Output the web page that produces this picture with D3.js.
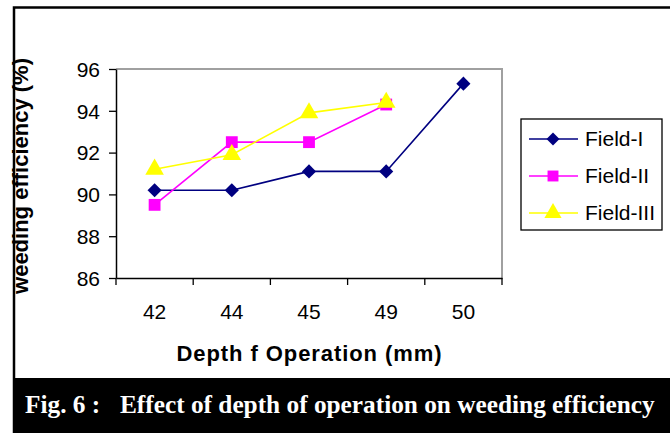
<!doctype html>
<html>
<head>
    <meta charset="utf-8"/>
    <style>
        body { margin: 0; background: #fff; }
        svg { display: block; font-family: "Liberation Sans", Arial, sans-serif; }
    </style>
    <script src="https://d3js.org/d3.v7.min.js"></script>
</head>
<body>
<svg width="670" height="433"></svg>

<script>
    // depth of operation (mm), one category each
    var depths = ["42", "44", "45", "49", "50"];
    var yTicks = [86, 88, 90, 92, 94, 96];

    var fieldI   = [90.2, 90.2, 91.1, 91.1, 95.3];
    var fieldII  = [89.5, 92.5, 92.5, 94.3];
    var fieldIII = [91.2, 91.9, 93.9, 94.4];

    var seriesNames = ["Field-I", "Field-II", "Field-III"];
    var seriesColors = ["#000080", "#ff00ff", "#ffff00"];
    // Field-I diamond = square turned 45 degrees
    var seriesShapes = [d3.symbolSquare, d3.symbolSquare, d3.symbolTriangle];
    var seriesRotate = [45, 0, 0];
    var seriesSizes = [100, 140, 150];

    var svg = d3.select("svg");

    var plot = {left: 116, right: 502, top: 69, bottom: 278};

    var x = d3.scaleBand()
        .domain(depths)
        .range([plot.left, plot.right]);

    var y = d3.scaleLinear()
        .domain([86, 96])
        .range([plot.bottom, plot.top]);

    // outer frame
    svg.append("rect")
        .attr("x", 14).attr("y", 7.5)
        .attr("width", 700).attr("height", 440)
        .attr("fill", "none")
        .attr("stroke", "#000")
        .attr("stroke-width", 2.5);

    // top/right plot border in grey
    svg.append("path")
        .attr("d", "M" + plot.left + "," + plot.top + "H" + plot.right + "V" + plot.bottom)
        .attr("fill", "none")
        .attr("stroke", "#a0a0a0")
        .attr("stroke-width", 2);

    var yAxis = svg.append("g")
        .attr("transform", "translate(" + plot.left + ",0)")
        .call(d3.axisLeft(y).tickValues(yTicks).tickSize(7).tickSizeOuter(0).tickPadding(9));

    var xAxis = svg.append("g")
        .attr("transform", "translate(0," + plot.bottom + ")")
        .call(d3.axisBottom(x).tickSize(0).tickPadding(26));

    // x tick marks sit between categories
    svg.append("g")
        .selectAll("line")
        .data(depths.concat(["end"]))
        .join("line")
        .attr("x1", function(d, i) { return x.range()[0] + i * x.step(); })
        .attr("x2", function(d, i) { return x.range()[0] + i * x.step(); })
        .attr("y1", plot.bottom)
        .attr("y2", plot.bottom + 7)
        .attr("stroke", "#000")
        .attr("stroke-width", 1.3);

    [yAxis, xAxis].forEach(function(a) {
        a.attr("font-family", null).attr("font-size", null);
        a.select(".domain").attr("stroke", "#000").attr("stroke-width", 1.5);
        a.selectAll(".tick line").attr("stroke", "#000").attr("stroke-width", 1.3);
        a.selectAll(".tick text")
            .attr("font-size", 21)
            .attr("fill", "#000");
    });
    yAxis.selectAll(".tick text").attr("dy", "0.35em");

    // axis titles
    svg.append("text")
        .attr("transform", "translate(28,176) rotate(-90)")
        .attr("text-anchor", "middle")
        .attr("font-weight", "bold")
        .attr("font-size", 22)
        .text("weeding efficiency (%)");

    svg.append("text")
        .attr("x", (plot.left + plot.right) / 2)
        .attr("y", 361)
        .attr("text-anchor", "middle")
        .attr("font-weight", "bold")
        .attr("font-size", 22)
        .attr("textLength", 265)
        .text("Depth f Operation (mm)");

    // series
    var allSeries = [fieldI, fieldII, fieldIII];
    var line = d3.line()
        .x(function(d, i) { return x(depths[i]) + x.bandwidth() / 2; })
        .y(function(d) { return y(d); });

    allSeries.forEach(function(values, s) {
        var g = svg.append("g");
        g.append("path")
            .datum(values)
            .attr("d", line)
            .attr("fill", "none")
            .attr("stroke", seriesColors[s])
            .attr("stroke-width", 1.6);
        g.selectAll("path.pt")
            .data(values)
            .join("path")
            .attr("class", "pt")
            .attr("transform", function(d, i) {
                return "translate(" + (x(depths[i]) + x.bandwidth() / 2) + "," + y(d) + ") rotate(" + seriesRotate[s] + ")";
            })
            .attr("d", d3.symbol().type(seriesShapes[s]).size(seriesSizes[s]))
            .attr("fill", seriesColors[s]);
    });

    // legend
    var legend = svg.append("g");
    legend.append("rect")
        .attr("x", 521).attr("y", 119)
        .attr("width", 141).attr("height", 111)
        .attr("fill", "#fff")
        .attr("stroke", "#000")
        .attr("stroke-width", 1.3);

    var items = legend.selectAll("g.item")
        .data(seriesNames)
        .join("g")
        .attr("class", "item")
        .attr("transform", function(d, i) { return "translate(0," + (139 + i * 37) + ")"; });

    items.append("line")
        .attr("x1", 529).attr("x2", 578)
        .attr("stroke", function(d, i) { return seriesColors[i]; })
        .attr("stroke-width", 1.6);
    items.append("path")
        .attr("transform", function(d, i) { return "translate(553,0) rotate(" + seriesRotate[i] + ")"; })
        .attr("d", function(d, i) { return d3.symbol().type(seriesShapes[i]).size(seriesSizes[i] * 0.85)(); })
        .attr("fill", function(d, i) { return seriesColors[i]; });
    items.append("text")
        .attr("x", 585)
        .attr("dy", "0.35em")
        .attr("font-size", 21)
        .text(function(d) { return d; });

    // caption bar
    svg.append("rect")
        .attr("x", 13).attr("y", 378)
        .attr("width", 660).attr("height", 60)
        .attr("fill", "#000");

    var capFont = "'Liberation Serif', 'Times New Roman', serif";

    var figLabel = svg.append("text")
        .attr("x", 25).attr("y", 413)
        .attr("fill", "#fff")
        .attr("font-family", capFont)
        .attr("font-weight", "bold")
        .attr("font-size", 22)
        .text("Fig. 6 :");

    var caption = svg.append("text")
        .attr("x", 120).attr("y", 413)
        .attr("fill", "#fff")
        .attr("font-family", capFont)
        .attr("font-weight", "bold")
        .attr("font-size", 22)
        .text("Effect of depth of operation on weeding efficiency");

    // fit caption to the width it has in the figure
    var w = caption.node().getComputedTextLength();
    caption.attr("font-size", 22 * 535 / w);
    figLabel.attr("font-size", 22 * 535 / w);
</script>
</body>
</html>
